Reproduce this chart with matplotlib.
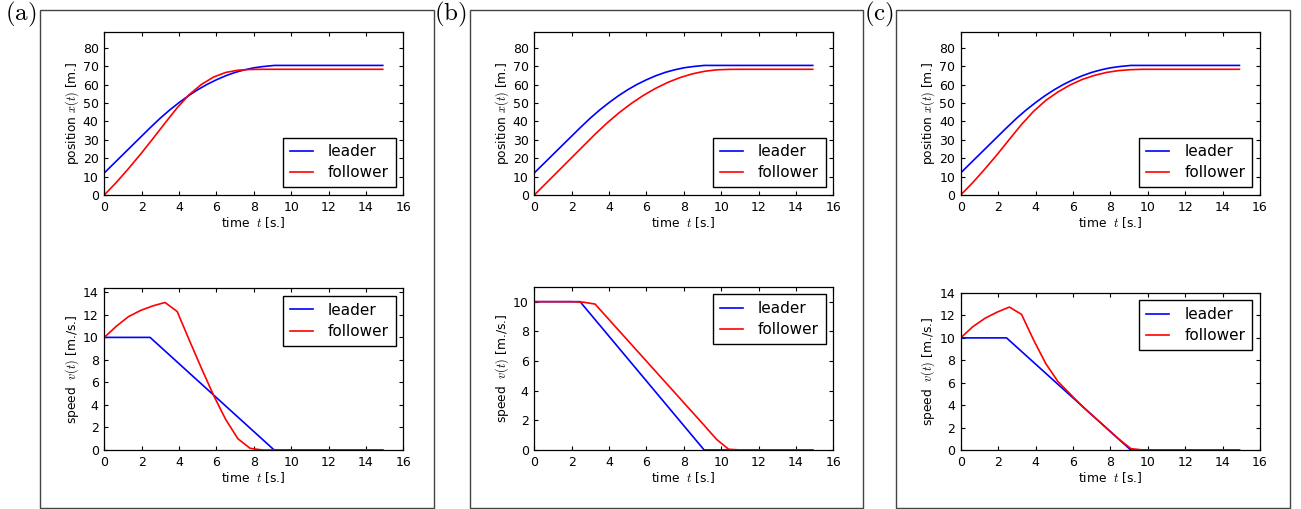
import matplotlib
matplotlib.use("Agg")
import matplotlib.pyplot as plt
from matplotlib.patches import Rectangle

# ---------------- data ----------------
# leader (identical in the three panels)
t_leader_pos = [0, 0.5, 1, 1.5, 2, 2.45, 3, 3.5, 4, 4.5, 5, 5.5, 6, 6.5, 7, 7.5, 8, 8.5, 9.1, 14.9]
x_leader = [12, 17, 22, 27, 32, 36.5, 41.8, 46.2, 50.2, 53.9, 57.2, 60.1, 62.6, 64.8, 66.6, 68.0, 69.1, 69.8, 70.4, 70.4]
t_leader_speed = [0, 2.45, 9.09, 14.9]
v_leader = [10, 10, 0, 0]

# follower sample times
t_follower = [0, 0.65, 1.3, 1.95, 2.6, 3.25, 3.9, 4.55, 5.2, 5.85, 6.5, 7.15, 7.8, 8.45, 9.1, 9.75, 10.4, 11.05, 14.9]

# panel (a)
x_follower_a = [0, 6.9, 14.4, 22.3, 30.6, 39.1, 47.4, 54.6, 60.1, 64.1, 66.6, 67.8, 68.2, 68.3, 68.3, 68.3, 68.3, 68.3, 68.3]
v_follower_a = [10, 11.0, 11.85, 12.4, 12.8, 13.1, 12.3, 9.75, 7.25, 4.85, 2.7, 1.0, 0.15, 0, 0, 0, 0, 0, 0]
# panel (b)
x_follower_b = [0, 6.6, 13.2, 19.8, 26.4, 33.0, 39.2, 44.8, 49.8, 54.2, 58.0, 61.2, 63.8, 65.8, 67.2, 68.0, 68.25, 68.3, 68.3]
v_follower_b = [10, 10, 10, 10, 9.97, 9.84, 8.93, 8.02, 7.11, 6.2, 5.29, 4.38, 3.47, 2.56, 1.65, 0.72, 0.05, 0, 0]
# panel (c)
x_follower_c = [0, 6.8, 14.2, 22.0, 30.2, 38.3, 45.5, 51.4, 56.0, 59.8, 62.8, 65.0, 66.6, 67.6, 68.1, 68.3, 68.3, 68.3, 68.3]
v_follower_c = [10, 11.0, 11.75, 12.3, 12.75, 12.1, 9.8, 7.7, 6.1, 5.0, 3.9, 2.92, 1.95, 0.98, 0.12, 0, 0, 0, 0]

panel_labels = ["(a)", "(b)", "(c)"]
pos_ylim = 88.4
speed_ylims = [14.36, 11.01, 14.03]
x_ticks = [0, 2, 4, 6, 8, 10, 12, 14, 16]
pos_ticks = [0, 10, 20, 30, 40, 50, 60, 70, 80]
speed_ticks = [[0, 2, 4, 6, 8, 10, 12, 14], [0, 2, 4, 6, 8, 10], [0, 2, 4, 6, 8, 10, 12, 14]]

# ---------------- style ----------------
plt.rcParams.update({
    "font.family": ["DejaVu Sans"],
    "mathtext.fontset": "cm",
    "xtick.direction": "in", "ytick.direction": "in",
    "xtick.top": True, "ytick.right": True,
    "xtick.major.size": 3.2, "ytick.major.size": 3.2,
    "xtick.major.width": 0.8, "ytick.major.width": 0.8,
    "xtick.major.pad": 4, "ytick.major.pad": 4,
    "axes.linewidth": 0.9,
    "xtick.labelsize": 9, "ytick.labelsize": 9,
    "axes.labelsize": 8.8,
    "legend.fontsize": 11,
})

W, H = 1301, 509
def rect(l, t, r, b):
    return [l / W, 1 - b / H, (r - l) / W, (b - t) / H]

fig = plt.figure(figsize=(W / 100, H / 100), dpi=100)

top_rects = [(104.3, 32.3, 403.3, 195), (534.3, 32.3, 833.3, 195), (960.7, 32.3, 1260, 195)]
bot_rects = [(104.3, 288.3, 403.3, 450), (534.3, 286.7, 833.3, 450), (960.7, 292.7, 1260, 450)]
boxes = [(40.3, 10.3, 433.7, 507.7), (470, 10.3, 863.3, 507.7), (896.3, 10.3, 1290, 507.7)]
label_x = [5, 434, 864]

followers_x = [x_follower_a, x_follower_b, x_follower_c]
followers_v = [v_follower_a, v_follower_b, v_follower_c]

leg_kw = dict(fancybox=False, framealpha=1, edgecolor="black", borderpad=0.45,
              labelspacing=0.4, handlelength=1.5, handletextpad=1.0)

for i in range(3):
    # frame box
    l, t, r, b = boxes[i]
    fig.add_artist(Rectangle((l / W, 1 - b / H), (r - l) / W, (b - t) / H,
                             transform=fig.transFigure, fill=False,
                             edgecolor="#444444", lw=1.0))
    fig.text(label_x[i] / W, 1 - 14 / H, r"$\mathrm{" + panel_labels[i] + "}$",
             fontsize=18, ha="left", va="center")

    ax = fig.add_axes(rect(*top_rects[i]))
    ax.plot(t_leader_pos, x_leader, color="b", lw=1.2, label="leader")
    ax.plot(t_follower, followers_x[i], color="r", lw=1.2, label="follower")
    ax.set_xlim(0, 16)
    ax.set_ylim(0, pos_ylim)
    ax.set_xticks(x_ticks)
    ax.set_yticks(pos_ticks)
    ax.set_xlabel(r"time  $t$ [s.]", labelpad=1)
    ax.set_ylabel(r"position $x(t)$ [m.]", labelpad=1.5)
    lg = ax.legend(loc="lower right", **leg_kw)
    lg.get_frame().set_linewidth(1.0)

    ax2 = fig.add_axes(rect(*bot_rects[i]))
    ax2.plot(t_leader_speed, v_leader, color="b", lw=1.2, label="leader")
    ax2.plot(t_follower, followers_v[i], color="r", lw=1.2, label="follower")
    ax2.set_xlim(0, 16)
    ax2.set_ylim(0, speed_ylims[i])
    ax2.set_xticks(x_ticks)
    ax2.set_yticks(speed_ticks[i])
    ax2.set_xlabel(r"time  $t$ [s.]", labelpad=1)
    ax2.set_ylabel(r"speed  $v(t)$ [m./s.]", labelpad=1.5)
    lg2 = ax2.legend(loc="upper right", **leg_kw)
    lg2.get_frame().set_linewidth(1.0)

fig.savefig("out.png", dpi=100)
